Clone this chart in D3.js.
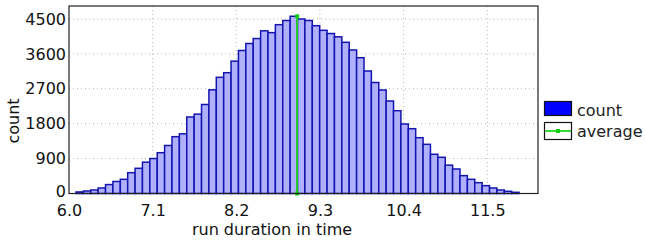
<!DOCTYPE html>
<html><head><meta charset="utf-8">
<script src="https://cdn.jsdelivr.net/npm/d3@7"></script>
<style>
html,body{margin:0;padding:0;background:#fff;}
text{font-family:"DejaVu Sans",sans-serif;}
</style></head>
<body><svg id="c" width="646" height="242"></svg>
<script>
// ---- data ----
const binStart = 6.092;      // left edge of first bin (run duration)
const binWidth = 0.0971;     // width of each bin
const counts = [40,64,90,142,230,310,366,537,650,808,
  902,1052,1238,1465,1538,1973,2046,2295,2673,2996,
  3115,3413,3688,3868,3996,4194,4148,4353,4461,4570,
  4500,4461,4327,4208,4125,4040,3899,3701,3502,3159,
  2862,2669,2385,2135,1792,1671,1439,1268,1011,933,
  731,632,460,366,279,202,142,90,57,31];
const average = 9.0;
const xTicks = [6.0,7.1,8.2,9.3,10.4,11.5];
const yTicks = [0,900,1800,2700,3600,4500];
const xDomain = [6.0, 12.167];
const yDomain = [0, 4835];
const seriesNames = ["count","average"];
const xTitle = "run duration in time";
const yTitle = "count";

// ---- layout ----
const L = 69, R = 538, T = 6, B = 193.5;
const svg = d3.select("#c");
const x = d3.scaleLinear().domain(xDomain).range([L, R]);
const y = d3.scaleLinear().domain(yDomain).range([B, T]);

// grid
const g = svg.append("g");
g.selectAll("line.gy").data(yTicks.filter(d=>d>0)).join("line")
  .attr("x1", L).attr("x2", R).attr("y1", d=>y(d)).attr("y2", d=>y(d))
  .attr("stroke","#b8b8b8").attr("stroke-width",1).attr("stroke-dasharray","1,3");
g.selectAll("line.gx").data(xTicks.filter(d=>d>xDomain[0])).join("line")
  .attr("y1", T).attr("y2", B).attr("x1", d=>x(d)).attr("x2", d=>x(d))
  .attr("stroke","#b8b8b8").attr("stroke-width",1).attr("stroke-dasharray","1,3");

// bars
const bins = counts.map((c,i)=>({x0: binStart + i*binWidth, x1: binStart + (i+1)*binWidth, c}));
svg.append("g").selectAll("rect").data(bins).join("rect")
  .attr("x", d=>x(d.x0)).attr("width", d=>x(d.x1)-x(d.x0))
  .attr("y", d=>y(d.c)).attr("height", d=>y(0)-y(d.c))
  .attr("fill","#b0b0fc").attr("stroke","#1414b0").attr("stroke-width",1.5);

// average line
const maxC = d3.max(counts);
svg.append("line").attr("x1", x(average)).attr("x2", x(average))
  .attr("y1", y(0)).attr("y2", y(maxC))
  .attr("stroke","#22cc22").attr("stroke-width",2);
svg.selectAll("rect.m").data([0, maxC]).join("rect")
  .attr("x", x(average)-2).attr("y", d=>y(d)-2).attr("width",4).attr("height",4)
  .attr("fill","#11cc11");

// frame
svg.append("rect").attr("x", L).attr("y", T).attr("width", R-L).attr("height", B-T)
  .attr("fill","none").attr("stroke","#222").attr("stroke-width",1.2);

// axes
const xa = svg.append("g").attr("transform",`translate(0,${B})`)
  .call(d3.axisBottom(x).tickValues(xTicks).tickFormat(d3.format(".1f")).tickSize(0).tickPadding(11));
const ya = svg.append("g").attr("transform",`translate(${L},0)`)
  .call(d3.axisLeft(y).tickValues(yTicks).tickFormat(d3.format("d")).tickSize(0).tickPadding(3));
[xa, ya].forEach(a=>{
  a.select(".domain").remove();
  a.selectAll("text").attr("font-size",16).attr("fill","#111").attr("font-family","DejaVu Sans");
});
ya.selectAll(".tick text").filter(d=>d===0).attr("dy","0.2em");

// titles
svg.append("text").attr("x", 272).attr("y", 235).attr("text-anchor","middle")
  .attr("font-size",16).attr("fill","#111").text(xTitle);
svg.append("text").attr("transform","translate(19,121) rotate(-90)").attr("text-anchor","middle")
  .attr("font-size",16).attr("fill","#111").text(yTitle);

// legend
const lg = svg.append("g");
lg.append("rect").attr("x",544.5).attr("y",101.5).attr("width",27).attr("height",14)
  .attr("fill","#0000ff").attr("stroke","#111").attr("stroke-width",1.2);
lg.append("rect").attr("x",544.5).attr("y",122.5).attr("width",27).attr("height",17)
  .attr("fill","#fff").attr("stroke","#111").attr("stroke-width",1.2);
lg.append("line").attr("x1",545).attr("x2",571).attr("y1",131).attr("y2",131)
  .attr("stroke","#33dd33").attr("stroke-width",2);
lg.append("rect").attr("x",556).attr("y",129).attr("width",4).attr("height",4).attr("fill","#11cc11");
lg.selectAll("text").data(seriesNames).join("text")
  .attr("x",577).attr("y",(d,i)=> i===0 ? 116 : 137)
  .attr("font-size",16).attr("fill","#222").text(d=>d);
</script>
</body></html>
